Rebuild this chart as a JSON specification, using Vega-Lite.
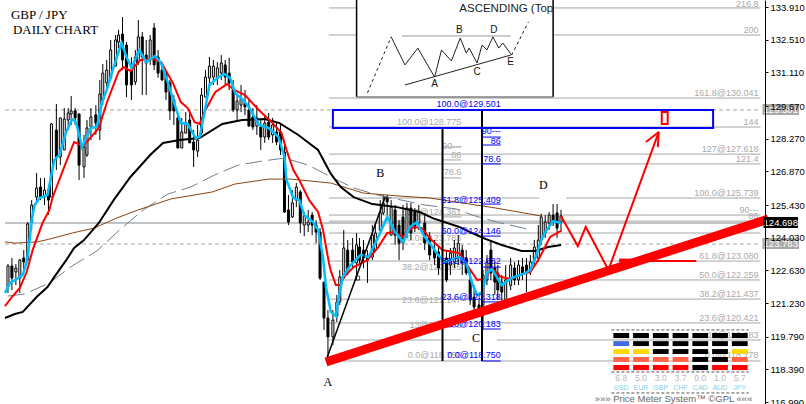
{"$schema":"https://vega.github.io/schema/vega-lite/v6.json","width":806,"height":404,"padding":0,"autosize":{"type":"none"},"background":"#ffffff","config":{"view":{"stroke":null}},
"datasets":{
"candles":[{"x":3,"o":121.92,"c":122.82,"p":122.90,"l":121.66},{"x":7,"o":122.82,"c":122.30,"p":123.16,"l":121.79},{"x":11,"o":122.56,"c":122.73,"p":122.90,"l":122.00},{"x":15,"o":122.30,"c":123.07,"p":123.12,"l":121.66},{"x":19,"o":123.16,"c":122.99,"p":123.50,"l":122.56},{"x":23,"o":123.07,"c":124.62,"p":124.70,"l":123.07},{"x":27,"o":124.70,"c":125.43,"p":125.64,"l":124.36},{"x":32,"o":125.77,"c":126.16,"p":126.80,"l":125.51},{"x":36,"o":126.20,"c":125.77,"p":126.59,"l":125.64},{"x":40,"o":125.77,"c":126.07,"p":126.59,"l":125.43},{"x":44,"o":126.07,"c":125.64,"p":126.29,"l":125.0},{"x":47,"o":125.77,"c":128.90,"p":128.94,"l":125.77},{"x":52,"o":128.64,"c":127.49,"p":129.76,"l":126.93},{"x":56,"o":127.49,"c":129.16,"p":129.16,"l":127.14},{"x":60,"o":127.79,"c":129.11,"p":129.58,"l":127.79},{"x":64,"o":129.07,"c":129.37,"p":129.58,"l":128.64},{"x":67,"o":129.33,"c":129.46,"p":130.10,"l":128.86},{"x":71,"o":129.46,"c":129.16,"p":129.58,"l":128.86},{"x":75,"o":129.33,"c":127.14,"p":129.33,"l":126.50},{"x":80,"o":127.06,"c":127.91,"p":128.43,"l":126.59},{"x":83,"o":127.57,"c":128.73,"p":129.07,"l":127.49},{"x":87,"o":128.77,"c":129.20,"p":129.58,"l":128.21},{"x":92,"o":129.29,"c":128.94,"p":129.71,"l":128.43},{"x":96,"o":128.64,"c":130.18,"p":130.78,"l":128.21},{"x":99,"o":129.93,"c":131.08,"p":131.47,"l":129.71},{"x":103,"o":130.66,"c":131.21,"p":131.64,"l":130.44},{"x":107,"o":130.87,"c":132.07,"p":132.50,"l":130.78},{"x":112,"o":131.38,"c":132.50,"p":132.71,"l":131.38},{"x":115,"o":132.41,"c":132.71,"p":132.93,"l":132.15},{"x":119,"o":132.75,"c":131.64,"p":133.48,"l":131.21},{"x":123,"o":132.28,"c":130.57,"p":132.41,"l":130.05},{"x":128,"o":131.21,"c":130.57,"p":131.77,"l":129.93},{"x":132,"o":130.70,"c":131.77,"p":132.07,"l":130.57},{"x":135,"o":131.55,"c":132.63,"p":133.35,"l":131.43},{"x":139,"o":132.63,"c":131.77,"p":132.84,"l":130.14},{"x":143,"o":131.85,"c":131.51,"p":132.50,"l":130.14},{"x":147,"o":131.64,"c":132.50,"p":132.71,"l":131.43},{"x":151,"o":133.01,"c":131.43,"p":133.22,"l":131.21},{"x":155,"o":131.77,"c":131.08,"p":132.07,"l":130.88},{"x":159,"o":131.21,"c":130.78,"p":131.55,"l":130.78},{"x":163,"o":131.08,"c":130.27,"p":131.08,"l":129.93},{"x":167,"o":130.66,"c":129.46,"p":130.78,"l":129.07},{"x":171,"o":129.93,"c":129.46,"p":130.14,"l":128.86},{"x":175,"o":129.16,"c":127.87,"p":129.29,"l":127.87},{"x":179,"o":127.87,"c":128.56,"p":129.16,"l":127.87},{"x":183,"o":128.51,"c":128.94,"p":129.41,"l":128.51},{"x":187,"o":129.07,"c":128.09,"p":129.50,"l":128.09},{"x":191,"o":128.13,"c":127.79,"p":128.64,"l":127.06},{"x":195,"o":127.74,"c":128.21,"p":128.86,"l":127.49},{"x":199,"o":128.51,"c":130.14,"p":130.44,"l":128.43},{"x":203,"o":130.05,"c":130.91,"p":131.21,"l":130.05},{"x":207,"o":130.87,"c":131.38,"p":131.77,"l":130.36},{"x":211,"o":130.91,"c":131.38,"p":131.64,"l":130.57},{"x":215,"o":130.87,"c":131.30,"p":131.55,"l":130.57},{"x":219,"o":131.08,"c":131.51,"p":131.85,"l":130.78},{"x":223,"o":131.43,"c":130.91,"p":131.64,"l":130.57},{"x":227,"o":131.08,"c":130.66,"p":131.73,"l":130.36},{"x":231,"o":130.36,"c":129.50,"p":130.78,"l":129.41},{"x":235,"o":129.50,"c":129.88,"p":130.14,"l":129.07},{"x":239,"o":129.71,"c":129.97,"p":130.57,"l":129.41},{"x":243,"o":129.80,"c":129.63,"p":130.36,"l":129.28},{"x":247,"o":129.50,"c":128.81,"p":129.93,"l":128.81},{"x":251,"o":129.20,"c":128.77,"p":129.58,"l":128.64},{"x":255,"o":128.81,"c":129.16,"p":129.71,"l":128.43},{"x":259,"o":128.77,"c":128.34,"p":129.07,"l":127.79},{"x":263,"o":128.34,"c":128.94,"p":129.29,"l":128.09},{"x":267,"o":128.98,"c":128.34,"p":129.37,"l":128.21},{"x":271,"o":128.43,"c":128.86,"p":129.16,"l":128.09},{"x":275,"o":128.56,"c":128.13,"p":128.98,"l":128.0},{"x":279,"o":128.56,"c":127.79,"p":128.86,"l":127.57},{"x":283,"o":127.70,"c":125.13,"p":128.0,"l":125.09},{"x":287,"o":125.22,"c":124.70,"p":125.86,"l":124.57},{"x":291,"o":124.92,"c":125.52,"p":126.07,"l":124.87},{"x":295,"o":125.64,"c":126.20,"p":126.37,"l":125.34},{"x":299,"o":125.99,"c":124.66,"p":126.07,"l":124.23},{"x":303,"o":124.57,"c":125.0,"p":125.13,"l":124.10},{"x":307,"o":124.57,"c":124.70,"p":125.22,"l":124.27},{"x":311,"o":125.0,"c":124.57,"p":125.13,"l":124.14},{"x":315,"o":124.57,"c":124.27,"p":124.79,"l":123.80},{"x":319,"o":124.27,"c":122.30,"p":124.44,"l":122.22},{"x":323,"o":122.13,"c":120.59,"p":122.13,"l":120.08},{"x":327,"o":120.59,"c":119.78,"p":120.93,"l":118.88},{"x":332,"o":119.78,"c":120.5,"p":120.93,"l":119.43},{"x":336,"o":120.68,"c":121.28,"p":121.58,"l":120.42},{"x":339,"o":121.28,"c":122.35,"p":122.65,"l":121.15},{"x":343,"o":122.30,"c":123.59,"p":124.36,"l":122.30},{"x":347,"o":123.50,"c":122.65,"p":123.93,"l":122.43},{"x":352,"o":123.50,"c":122.99,"p":124.02,"l":122.73},{"x":356,"o":122.95,"c":123.72,"p":124.23,"l":122.22},{"x":359,"o":123.63,"c":123.07,"p":124.02,"l":122.86},{"x":363,"o":123.50,"c":123.16,"p":123.93,"l":122.73},{"x":367,"o":123.16,"c":123.07,"p":123.50,"l":122.09},{"x":372,"o":123.20,"c":124.14,"p":124.57,"l":123.07},{"x":375,"o":123.50,"c":124.23,"p":124.70,"l":123.42},{"x":380,"o":124.36,"c":125.09,"p":125.64,"l":124.27},{"x":383,"o":125.09,"c":125.52,"p":125.86,"l":125.0},{"x":387,"o":125.77,"c":125.56,"p":125.86,"l":125.0},{"x":391,"o":124.14,"c":125.34,"p":125.64,"l":124.14},{"x":395,"o":125.22,"c":124.14,"p":125.43,"l":123.72},{"x":399,"o":124.57,"c":123.80,"p":124.79,"l":123.07},{"x":403,"o":124.92,"c":123.80,"p":125.43,"l":123.50},{"x":407,"o":124.23,"c":125.30,"p":125.52,"l":124.02},{"x":411,"o":125.30,"c":124.23,"p":125.52,"l":123.93},{"x":415,"o":125.13,"c":124.44,"p":125.30,"l":124.27},{"x":419,"o":124.66,"c":125.13,"p":125.43,"l":124.36},{"x":425,"o":124.66,"c":123.80,"p":124.99,"l":123.50},{"x":430,"o":124.06,"c":123.29,"p":124.27,"l":123.07},{"x":435,"o":123.50,"c":123.16,"p":123.93,"l":122.86},{"x":439,"o":123.42,"c":122.73,"p":123.72,"l":122.43},{"x":447,"o":123.16,"c":122.22,"p":123.50,"l":122.13},{"x":451,"o":122.86,"c":123.37,"p":123.59,"l":122.43},{"x":455,"o":122.99,"c":123.59,"p":123.93,"l":122.73},{"x":459,"o":123.20,"c":123.80,"p":124.14,"l":122.86},{"x":463,"o":123.50,"c":122.95,"p":123.72,"l":122.43},{"x":467,"o":123.16,"c":122.52,"p":123.50,"l":122.43},{"x":471,"o":122.22,"c":121.36,"p":122.65,"l":121.15},{"x":475,"o":121.49,"c":121.06,"p":122.0,"l":120.85},{"x":480,"o":121.15,"c":120.93,"p":121.45,"l":120.72},{"x":484,"o":121.15,"c":122.43,"p":122.65,"l":120.08},{"x":488,"o":122.22,"c":122.99,"p":123.29,"l":122.0},{"x":492,"o":123.50,"c":122.52,"p":123.93,"l":122.22},{"x":496,"o":122.73,"c":122.13,"p":122.99,"l":121.58},{"x":499,"o":122.52,"c":121.79,"p":122.86,"l":121.36},{"x":503,"o":122.13,"c":121.70,"p":122.43,"l":121.28},{"x":507,"o":121.36,"c":122.22,"p":122.86,"l":121.28},{"x":512,"o":121.99,"c":122.86,"p":123.16,"l":121.79},{"x":516,"o":122.73,"c":122.22,"p":122.99,"l":122.0},{"x":520,"o":122.22,"c":122.86,"p":123.07,"l":122.0},{"x":524,"o":122.78,"c":122.52,"p":123.16,"l":122.22},{"x":528,"o":122.86,"c":122.56,"p":123.16,"l":121.70},{"x":532,"o":122.65,"c":122.99,"p":123.29,"l":122.43},{"x":536,"o":123.07,"c":123.63,"p":123.93,"l":122.86},{"x":540,"o":123.16,"c":123.93,"p":124.57,"l":122.99},{"x":543,"o":123.93,"c":124.92,"p":125.05,"l":123.72},{"x":547,"o":124.23,"c":124.70,"p":125.0,"l":124.02},{"x":551,"o":124.66,"c":125.0,"p":125.13,"l":124.36},{"x":555,"o":125.0,"c":124.70,"p":125.47,"l":124.53},{"x":559,"o":125.09,"c":124.44,"p":125.47,"l":124.02},{"x":563,"o":124.70,"c":124.96,"p":125.22,"l":124.27}],
"cyan":[{"x":0,"p":121.66},{"x":5,"p":122.09},{"x":12,"p":122.26},{"x":18,"p":122.43},{"x":22,"p":122.99},{"x":25,"p":123.93},{"x":27,"p":124.79},{"x":30,"p":125.43},{"x":35,"p":125.73},{"x":43,"p":125.86},{"x":50,"p":127.36},{"x":55,"p":127.57},{"x":62,"p":128.56},{"x":68,"p":129.11},{"x":72,"p":128.98},{"x":78,"p":127.91},{"x":87,"p":128.73},{"x":93,"p":128.77},{"x":98,"p":129.80},{"x":103,"p":130.36},{"x":110,"p":131.34},{"x":118,"p":132.37},{"x":123,"p":131.77},{"x":128,"p":131.30},{"x":136,"p":132.07},{"x":143,"p":131.55},{"x":152,"p":131.81},{"x":158,"p":131.51},{"x":165,"p":130.66},{"x":173,"p":129.58},{"x":178,"p":128.94},{"x":185,"p":128.90},{"x":193,"p":128.30},{"x":197,"p":128.34},{"x":202,"p":129.37},{"x":207,"p":130.57},{"x":215,"p":130.87},{"x":222,"p":131.04},{"x":228,"p":130.87},{"x":233,"p":130.23},{"x":240,"p":129.97},{"x":247,"p":129.63},{"x":257,"p":128.86},{"x":267,"p":128.73},{"x":277,"p":128.34},{"x":283,"p":127.49},{"x":285,"p":126.50},{"x":292,"p":125.73},{"x":298,"p":125.64},{"x":303,"p":125.0},{"x":312,"p":124.70},{"x":317,"p":124.36},{"x":322,"p":123.20},{"x":325,"p":121.92},{"x":330,"p":120.85},{"x":335,"p":120.68},{"x":338,"p":121.49},{"x":342,"p":122.35},{"x":350,"p":122.86},{"x":360,"p":123.29},{"x":368,"p":123.20},{"x":378,"p":124.06},{"x":387,"p":124.92},{"x":395,"p":124.27},{"x":403,"p":123.85},{"x":410,"p":124.49},{"x":417,"p":124.70},{"x":425,"p":124.06},{"x":433,"p":123.63},{"x":437,"p":123.37},{"x":445,"p":122.99},{"x":460,"p":123.20},{"x":467,"p":122.95},{"x":473,"p":122.09},{"x":478,"p":121.58},{"x":483,"p":121.70},{"x":488,"p":122.52},{"x":493,"p":122.69},{"x":503,"p":122.0},{"x":513,"p":122.30},{"x":527,"p":122.52},{"x":532,"p":122.65},{"x":538,"p":123.29},{"x":543,"p":123.93},{"x":547,"p":124.27},{"x":555,"p":124.74},{"x":563,"p":124.66}],
"redma":[{"x":0,"p":121.10},{"x":7,"p":121.49},{"x":15,"p":121.88},{"x":22,"p":122.56},{"x":28,"p":123.50},{"x":38,"p":124.66},{"x":45,"p":125.22},{"x":48,"p":125.73},{"x":60,"p":127.06},{"x":70,"p":128.13},{"x":79,"p":127.96},{"x":87,"p":128.34},{"x":95,"p":128.73},{"x":103,"p":129.80},{"x":115,"p":131.13},{"x":120,"p":131.34},{"x":127,"p":131.17},{"x":137,"p":131.64},{"x":150,"p":131.68},{"x":158,"p":131.55},{"x":170,"p":130.66},{"x":178,"p":129.84},{"x":185,"p":129.58},{"x":192,"p":128.98},{"x":197,"p":128.90},{"x":203,"p":129.50},{"x":213,"p":130.27},{"x":225,"p":130.61},{"x":232,"p":130.36},{"x":243,"p":130.14},{"x":257,"p":129.50},{"x":270,"p":128.98},{"x":280,"p":128.51},{"x":285,"p":127.79},{"x":292,"p":126.93},{"x":298,"p":126.50},{"x":308,"p":125.64},{"x":317,"p":125.13},{"x":322,"p":124.36},{"x":328,"p":122.95},{"x":330,"p":122.60},{"x":335,"p":122.0},{"x":340,"p":122.0},{"x":343,"p":122.35},{"x":353,"p":122.77},{"x":367,"p":123.07},{"x":378,"p":123.63},{"x":387,"p":124.23},{"x":395,"p":124.27},{"x":403,"p":124.06},{"x":413,"p":124.49},{"x":422,"p":124.44},{"x":432,"p":123.93},{"x":443,"p":123.50},{"x":460,"p":123.37},{"x":470,"p":122.73},{"x":478,"p":122.22},{"x":485,"p":122.26},{"x":493,"p":122.73},{"x":502,"p":122.35},{"x":512,"p":122.26},{"x":527,"p":122.52},{"x":532,"p":122.56},{"x":540,"p":123.07},{"x":552,"p":124.06},{"x":563,"p":124.32}],
"blackma":[{"x":0,"p":120.59},{"x":10,"p":120.76},{"x":18,"p":120.85},{"x":32,"p":121.49},{"x":43,"p":121.92},{"x":50,"p":122.35},{"x":62,"p":123.07},{"x":70,"p":123.59},{"x":80,"p":123.93},{"x":95,"p":124.66},{"x":110,"p":125.64},{"x":127,"p":126.63},{"x":147,"p":127.57},{"x":160,"p":128.09},{"x":177,"p":128.21},{"x":197,"p":128.30},{"x":220,"p":128.90},{"x":240,"p":129.07},{"x":263,"p":129.11},{"x":278,"p":128.94},{"x":297,"p":128.43},{"x":317,"p":127.79},{"x":330,"p":126.76},{"x":340,"p":126.20},{"x":353,"p":125.77},{"x":372,"p":125.47},{"x":397,"p":125.34},{"x":420,"p":125.13},{"x":433,"p":124.87},{"x":460,"p":124.49},{"x":473,"p":124.23},{"x":487,"p":123.97},{"x":503,"p":123.72},{"x":523,"p":123.46},{"x":537,"p":123.46},{"x":550,"p":123.63},{"x":563,"p":123.72}],
"brown":[{"x":0,"p":123.85},{"x":10,"p":123.80},{"x":33,"p":123.85},{"x":45,"p":123.97},{"x":68,"p":124.23},{"x":90,"p":124.44},{"x":113,"p":124.87},{"x":135,"p":125.22},{"x":168,"p":125.69},{"x":210,"p":125.99},{"x":233,"p":126.33},{"x":267,"p":126.54},{"x":290,"p":126.54},{"x":330,"p":126.37},{"x":363,"p":125.94},{"x":397,"p":125.82},{"x":430,"p":125.73},{"x":463,"p":125.52},{"x":497,"p":125.30},{"x":543,"p":124.96}],
"slate":[{"x":3,"p":121.53},{"x":20,"p":121.62},{"x":45,"p":122.09},{"x":68,"p":122.82},{"x":93,"p":123.46},{"x":117,"p":124.40},{"x":140,"p":125.22},{"x":165,"p":125.90},{"x":188,"p":126.20},{"x":212,"p":126.71},{"x":236,"p":127.14},{"x":260,"p":127.31},{"x":283,"p":127.44},{"x":307,"p":127.14},{"x":330,"p":126.63},{"x":353,"p":126.16},{"x":377,"p":125.86},{"x":425,"p":125.43},{"x":457,"p":125.26},{"x":473,"p":125.0},{"x":498,"p":124.70},{"x":525,"p":124.44},{"x":533,"p":124.32}],
"levels":[{"x":328,"x2":765,"p":133.87},{"x":328,"x2":765,"p":132.71},{"x":328,"x2":765,"p":130.01},{"x":328,"x2":765,"p":128.77},{"x":328,"x2":765,"p":127.61},{"x":328,"x2":765,"p":127.19},{"x":328,"x2":765,"p":125.73},{"x":328,"x2":765,"p":125.0},{"x":328,"x2":765,"p":124.74},{"x":328,"x2":765,"p":124.23},{"x":328,"x2":765,"p":123.03},{"x":328,"x2":765,"p":122.22},{"x":328,"x2":765,"p":121.40},{"x":328,"x2":765,"p":120.38},{"x":328,"x2":765,"p":119.65},{"x":328,"x2":765,"p":118.75},{"x":443,"x2":462,"p":127.91},{"x":443,"x2":462,"p":127.36},{"x":443,"x2":462,"p":126.59},{"x":443,"x2":462,"p":124.92}],
"current":[{"x":0,"x2":765,"p":124.66}],
"dashed":[{"x":0,"x2":765,"p":129.50},{"x":0,"x2":765,"p":123.76}],
"masks":[{"x":462,"x2":498,"p":119.9,"p2":119.4},{"x":541,"x2":568,"p":125.95,"p2":125.55}],
"blueunder":[{"x":483,"x2":502,"p":128.34},{"x":483,"x2":502,"p":128.0},{"x":483,"x2":502,"p":127.19},{"x":483,"x2":502,"p":125.47},{"x":483,"x2":502,"p":124.1},{"x":483,"x2":502,"p":122.77},{"x":483,"x2":502,"p":121.28},{"x":483,"x2":502,"p":120.12},{"x":483,"x2":502,"p":118.75}],
"graytext":[{"x":462,"p":128.98,"t":"100.0@128.775"},{"x":462,"p":127.96,"t":"90---"},{"x":462,"p":127.57,"t":"86"},{"x":462,"p":126.84,"t":"78.6"},{"x":462,"p":125.13,"t":"61.8@124.361"},{"x":462,"p":124.02,"t":"50.0@123.783"},{"x":462,"p":122.77,"t":"38.2@122.105"},{"x":462,"p":121.36,"t":"23.6@121.147"},{"x":462,"p":120.29,"t":"13@120.183"},{"x":462,"p":119.01,"t":"0.0@118.750"},{"x":763,"p":134.04,"t":"216.8"},{"x":763,"p":132.93,"t":"200"},{"x":763,"p":130.23,"t":"161.8@130.041"},{"x":763,"p":128.98,"t":"144"},{"x":763,"p":127.83,"t":"127@127.618"},{"x":763,"p":127.4,"t":"121.4"},{"x":763,"p":125.94,"t":"100.0@125.739"},{"x":763,"p":125.22,"t":"90---"},{"x":763,"p":124.96,"t":"86"},{"x":763,"p":123.25,"t":"61.8@123.080"},{"x":763,"p":122.43,"t":"50.0@122.259"},{"x":763,"p":121.62,"t":"38.2@121.437"},{"x":763,"p":120.59,"t":"23.6@120.421"},{"x":763,"p":119.86,"t":"13@119.183"},{"x":763,"p":119.01,"t":"0.0@118.778"}],
"bluetext":[{"x":502,"p":129.76,"t":"100.0@129.501"},{"x":502,"p":128.6,"t":"90---"},{"x":502,"p":128.17,"t":"86"},{"x":502,"p":127.4,"t":"78.6"},{"x":502,"p":125.64,"t":"61.8@125.409"},{"x":502,"p":124.32,"t":"50.0@124.146"},{"x":502,"p":123.03,"t":"38.2@122.882"},{"x":502,"p":121.49,"t":"23.6@120.318"},{"x":502,"p":120.33,"t":"13@120.183"},{"x":502,"p":119.01,"t":"0.0@118.750"}],
"verticals":[{"x":443,"p":128.73,"p2":118.75},{"x":483,"p":129.50,"p2":118.75}],
"box":[{"x":332,"x2":717,"p":129.50,"p2":128.73}],
"smallbox":[{"x":665,"x2":671,"p":129.41,"p2":128.90}],
"thick":[{"x":325,"p":118.71},{"x":773,"p":124.83}],
"zig":[{"s":"a","x":563,"p":124.96},{"s":"a","x":580,"p":123.67},{"s":"a","x":588,"p":124.49},{"s":"a","x":611,"p":122.65},{"s":"a","x":662,"p":128.56},{"s":"b","x":649,"p":128.13},{"s":"b","x":662,"p":128.56},{"s":"c","x":661,"p":127.91},{"s":"c","x":662,"p":128.56},{"s":"d","x":622,"p":123.03},{"s":"d","x":700,"p":123.03}],
"stub":[{"x":622,"p":123.05},{"x":636,"p":123.05}],
"diag":[{"x":326,"p":118.88},{"x":385,"p":125.77}],
"marker":[{"x":357,"p":122.30}],
"letters":[{"x":327,"p":117.85,"t":"A"},{"x":380,"p":126.80,"t":"B"},{"x":477,"p":119.73,"t":"C"},{"x":545,"p":126.29,"t":"D"}],
"titles":[{"x":6,"p":133.55,"t":"GBP / JPY"},{"x":8,"p":132.91,"t":"DAILY CHART"}],
"inset":[{"x":356,"x2":555,"p":134.21,"p2":130.06}],
"insetedges":[{"s":"l","x":356,"p":134.21},{"s":"l","x":356,"p":130.06},{"s":"r","x":555,"p":134.21},{"s":"r","x":555,"p":130.06}],
"insetbottom":[{"x":356,"x2":555,"p":130.06}],
"insetsolid":[{"s":"w","x":391,"p":132.63},{"s":"w","x":405,"p":131.43},{"s":"w","x":418,"p":132.15},{"s":"w","x":435,"p":130.91},{"s":"w","x":442,"p":132.07},{"s":"w","x":452,"p":131.60},{"s":"w","x":461,"p":132.58},{"s":"w","x":467,"p":131.94},{"s":"w","x":470,"p":132.15},{"s":"w","x":478,"p":131.51},{"s":"w","x":483,"p":132.28},{"s":"w","x":488,"p":132.07},{"s":"w","x":494,"p":132.63},{"s":"w","x":500,"p":132.15},{"s":"w","x":504,"p":132.37},{"s":"w","x":513,"p":131.85},{"s":"t","x":405,"p":130.57},{"s":"t","x":512,"p":131.85}],
"insethoriz":[{"x":402,"p":132.67},{"x":512,"p":132.67}],
"insetdash":[{"s":"a","x":367,"p":130.23},{"s":"a","x":391,"p":132.63},{"s":"b","x":513,"p":131.85},{"s":"b","x":530,"p":133.27}],
"insettext":[{"x":435,"p":130.61,"t":"A"},{"x":460,"p":132.93,"t":"B"},{"x":478,"p":131.13,"t":"C"},{"x":495,"p":132.93,"t":"D"},{"x":512,"p":131.55,"t":"E"}],
"insettitle":[{"x":460,"p":133.82,"t":"ASCENDING (Top"}],
"meter":[{"x":616,"x2":632,"p":119.95,"p2":119.73,"k":"k"},{"x":616,"x2":632,"p":119.60,"p2":119.39,"k":"b"},{"x":616,"x2":632,"p":119.26,"p2":119.05,"k":"g"},{"x":616,"x2":632,"p":118.92,"p2":118.71,"k":"t"},{"x":616,"x2":632,"p":118.58,"p2":118.36,"k":"r"},{"x":636,"x2":652,"p":119.95,"p2":119.73,"k":"k"},{"x":636,"x2":652,"p":119.60,"p2":119.39,"k":"k"},{"x":636,"x2":652,"p":119.26,"p2":119.05,"k":"g"},{"x":636,"x2":652,"p":118.92,"p2":118.71,"k":"t"},{"x":636,"x2":652,"p":118.58,"p2":118.36,"k":"r"},{"x":656,"x2":672,"p":119.95,"p2":119.73,"k":"k"},{"x":656,"x2":672,"p":119.60,"p2":119.39,"k":"k"},{"x":656,"x2":672,"p":119.26,"p2":119.05,"k":"k"},{"x":656,"x2":672,"p":118.92,"p2":118.71,"k":"t"},{"x":656,"x2":672,"p":118.58,"p2":118.36,"k":"r"},{"x":676,"x2":692,"p":119.95,"p2":119.73,"k":"k"},{"x":676,"x2":692,"p":119.60,"p2":119.39,"k":"k"},{"x":676,"x2":692,"p":119.26,"p2":119.05,"k":"k"},{"x":676,"x2":692,"p":118.92,"p2":118.71,"k":"t"},{"x":676,"x2":692,"p":118.58,"p2":118.36,"k":"r"},{"x":696,"x2":712,"p":119.95,"p2":119.73,"k":"k"},{"x":696,"x2":712,"p":119.60,"p2":119.39,"k":"k"},{"x":696,"x2":712,"p":119.26,"p2":119.05,"k":"k"},{"x":696,"x2":712,"p":118.92,"p2":118.71,"k":"k"},{"x":696,"x2":712,"p":118.58,"p2":118.36,"k":"k"},{"x":716,"x2":732,"p":119.95,"p2":119.73,"k":"k"},{"x":716,"x2":732,"p":119.60,"p2":119.39,"k":"k"},{"x":716,"x2":732,"p":119.26,"p2":119.05,"k":"k"},{"x":716,"x2":732,"p":118.92,"p2":118.71,"k":"k"},{"x":716,"x2":732,"p":118.58,"p2":118.36,"k":"r"},{"x":736,"x2":752,"p":119.95,"p2":119.73,"k":"k"},{"x":736,"x2":752,"p":119.60,"p2":119.39,"k":"k"},{"x":736,"x2":752,"p":119.26,"p2":119.05,"k":"g"},{"x":736,"x2":752,"p":118.92,"p2":118.71,"k":"t"},{"x":736,"x2":752,"p":118.58,"p2":118.36,"k":"r"}],
"meterdash":[{"x":614,"x2":753,"p":120.08},{"x":614,"x2":753,"p":118.28},{"x":614,"x2":753,"p":117.38}],
"metervals":[{"x":624,"p":118.04,"t":"6.8"},{"x":644,"p":118.04,"t":"5.0"},{"x":664,"p":118.04,"t":"3.0"},{"x":684,"p":118.04,"t":"3.7"},{"x":704,"p":118.04,"t":"0.0"},{"x":724,"p":118.04,"t":"1.0"},{"x":744,"p":118.04,"t":"5.7"}],
"metercur":[{"x":624,"p":117.61,"t":"USD"},{"x":644,"p":117.61,"t":"EUR"},{"x":664,"p":117.61,"t":"GBP"},{"x":684,"p":117.61,"t":"CHF"},{"x":704,"p":117.61,"t":"CAD"},{"x":724,"p":117.61,"t":"AUD"},{"x":744,"p":117.61,"t":"JPY"}],
"meterfoot":[{"x":677,"p":117.14,"t":"»»» Price Meter System™ ©GPL «««"}],
"tags":[{"x":768,"x2":803,"p":124.92,"p2":124.45,"k":"now"},{"x":767,"x2":804,"p":124.02,"p2":123.55,"k":"old"},{"x":767,"x2":804,"p":129.76,"p2":129.28,"k":"old"}],
"tagtext":[{"x":785.5,"p":124.68,"t":"124.698"},{"x":785.5,"p":123.78,"t":"123.783"},{"x":785.5,"p":129.52,"t":"129.501"}]
},
"data":{"name":"candles"},
"encoding":{
"x":{"field":"x","type":"quantitative","scale":{"domain":[0,806],"nice":false,"zero":false},"axis":null},
"y":{"field":"p","type":"quantitative","scale":{"domain":[116.908,134.21],"nice":false,"zero":false},"axis":{"orient":"right","offset":-41,"values":[133.91,132.51,131.11,129.67,128.27,126.87,125.43,124.03,122.63,121.23,119.79,118.39,116.99],"format":".3f","title":null,"grid":false,"tickSize":3,"labelPadding":2,"labelFont":"Liberation Sans","labelFontSize":9.5,"labelColor":"#000000","domainColor":"#000000","tickColor":"#000000","zindex":1,"labelOverlap":false,"labelFlush":false}}
},
"layer":[
{"data":{"name":"levels"},"mark":{"type":"rule","color":"#a6a6a6","strokeWidth":1},"encoding":{"x2":{"field":"x2"}}},
{"data":{"name":"current"},"mark":{"type":"rule","color":"#808890","strokeWidth":1},"encoding":{"x2":{"field":"x2"}}},
{"data":{"name":"dashed"},"mark":{"type":"rule","color":"#a6a6a6","strokeWidth":1,"strokeDash":[4,3]},"encoding":{"x2":{"field":"x2"}}},
{"data":{"name":"masks"},"mark":{"type":"rect","fill":"#ffffff"},"encoding":{"x2":{"field":"x2"},"y2":{"field":"p2"}}},
{"data":{"name":"graytext"},"mark":{"type":"text","align":"right","baseline":"middle","font":"Liberation Sans","fontSize":9,"color":"#a9a9a9"},"encoding":{"text":{"field":"t"}}},
{"mark":{"type":"rule","color":"#000000","strokeWidth":1},"encoding":{"y2":{"field":"l"}}},
{"mark":{"type":"bar","size":2,"stroke":"#000000","strokeWidth":1,"orient":"vertical"},"encoding":{"y":{"field":"o","type":"quantitative","scale":{"domain":[116.908,134.21],"nice":false,"zero":false},"axis":{"orient":"right","offset":-41,"values":[133.91,132.51,131.11,129.67,128.27,126.87,125.43,124.03,122.63,121.23,119.79,118.39,116.99],"format":".3f","title":null,"grid":false,"tickSize":3,"labelPadding":2,"labelFont":"Liberation Sans","labelFontSize":9.5,"labelColor":"#000000","domainColor":"#000000","tickColor":"#000000","zindex":1,"labelOverlap":false,"labelFlush":false}},"y2":{"field":"c"},"fill":{"condition":{"test":"datum.c>=datum.o","value":"#ffffff"},"value":"#000000"}}},
{"data":{"name":"slate"},"mark":{"type":"line","color":"#708090","strokeWidth":1,"strokeDash":[17,6]}},
{"data":{"name":"brown"},"mark":{"type":"line","color":"#8b4513","strokeWidth":1}},
{"data":{"name":"blackma"},"mark":{"type":"line","color":"#000000","strokeWidth":2}},
{"data":{"name":"redma"},"mark":{"type":"line","color":"#ff0000","strokeWidth":2}},
{"data":{"name":"cyan"},"mark":{"type":"line","color":"#00bfff","strokeWidth":2.5}},
{"data":{"name":"verticals"},"mark":{"type":"rule","color":"#000000","strokeWidth":2},"encoding":{"y2":{"field":"p2"}}},
{"data":{"name":"blueunder"},"mark":{"type":"rule","color":"#0000ff","strokeWidth":1},"encoding":{"x2":{"field":"x2"}}},
{"data":{"name":"bluetext"},"mark":{"type":"text","align":"right","baseline":"middle","font":"Liberation Sans","fontSize":9,"color":"#0000ff"},"encoding":{"text":{"field":"t"}}},
{"data":{"name":"diag"},"mark":{"type":"line","color":"#000000","strokeWidth":1.5}},
{"data":{"name":"marker"},"mark":{"type":"point","shape":"square","size":16,"color":"#000000","filled":false,"strokeWidth":1}},
{"data":{"name":"box"},"mark":{"type":"rect","fill":null,"stroke":"#0000ff","strokeWidth":2},"encoding":{"x2":{"field":"x2"},"y2":{"field":"p2"}}},
{"data":{"name":"smallbox"},"mark":{"type":"rect","fill":null,"stroke":"#ff0000","strokeWidth":2},"encoding":{"x2":{"field":"x2"},"y2":{"field":"p2"}}},
{"data":{"name":"thick"},"mark":{"type":"line","color":"#ff0000","strokeWidth":9}},
{"data":{"name":"zig"},"mark":{"type":"line","color":"#ff0000","strokeWidth":2},"encoding":{"detail":{"field":"s"},"order":{"value":0}}},
{"data":{"name":"stub"},"mark":{"type":"line","color":"#ff0000","strokeWidth":4}},
{"data":{"name":"letters"},"mark":{"type":"text","align":"center","baseline":"middle","font":"Liberation Serif","fontSize":12,"color":"#000000"},"encoding":{"text":{"field":"t"}}},
{"data":{"name":"titles"},"mark":{"type":"text","align":"left","baseline":"middle","font":"Liberation Serif","fontSize":13,"color":"#000000"},"encoding":{"text":{"field":"t"}}},
{"data":{"name":"inset"},"mark":{"type":"rect","fill":"#ffffff"},"encoding":{"x2":{"field":"x2"},"y2":{"field":"p2"}}},
{"data":{"name":"insetedges"},"mark":{"type":"line","color":"#000000","strokeWidth":1.5},"encoding":{"detail":{"field":"s"}}},
{"data":{"name":"insetbottom"},"mark":{"type":"rule","color":"#808080","strokeWidth":1.5},"encoding":{"x2":{"field":"x2"}}},
{"data":{"name":"insethoriz"},"mark":{"type":"line","color":"#999999","strokeWidth":1}},
{"data":{"name":"insetsolid"},"mark":{"type":"line","color":"#222222","strokeWidth":1},"encoding":{"detail":{"field":"s"}}},
{"data":{"name":"insetdash"},"mark":{"type":"line","color":"#222222","strokeWidth":1,"strokeDash":[3,3]},"encoding":{"detail":{"field":"s"}}},
{"data":{"name":"insettext"},"mark":{"type":"text","align":"center","baseline":"middle","font":"Liberation Sans","fontSize":10,"color":"#111111"},"encoding":{"text":{"field":"t"}}},
{"data":{"name":"insettitle"},"mark":{"type":"text","align":"left","baseline":"middle","font":"Liberation Sans","fontSize":11.5,"color":"#222222"},"encoding":{"text":{"field":"t"}}},
{"data":{"name":"meter"},"mark":{"type":"rect"},"encoding":{"x2":{"field":"x2"},"y2":{"field":"p2"},"color":{"field":"k","type":"nominal","scale":{"domain":["k","b","g","t","r"],"range":["#000000","#4169e1","#ffd700","#ff6347","#ff0000"]},"legend":null}}},
{"data":{"name":"meterdash"},"mark":{"type":"rule","color":"#555555","strokeWidth":1,"strokeDash":[3,2]},"encoding":{"x2":{"field":"x2"}}},
{"data":{"name":"metervals"},"mark":{"type":"text","align":"center","baseline":"middle","font":"Liberation Sans","fontSize":8.5,"color":"#b8b8b8"},"encoding":{"text":{"field":"t"}}},
{"data":{"name":"metercur"},"mark":{"type":"text","align":"center","baseline":"middle","font":"Liberation Sans","fontSize":7,"color":"#87ceeb"},"encoding":{"text":{"field":"t"}}},
{"data":{"name":"meterfoot"},"mark":{"type":"text","align":"center","baseline":"middle","font":"Liberation Sans","fontSize":9.5,"color":"#666666"},"encoding":{"text":{"field":"t"}}},
{"data":{"name":"tags"},"mark":{"type":"rect"},"encoding":{"x2":{"field":"x2"},"y2":{"field":"p2"},"fill":{"field":"k","type":"nominal","scale":{"domain":["now","old"],"range":["#000000","#a9a9a9"]},"legend":null}}},
{"data":{"name":"tagtext"},"mark":{"type":"text","align":"center","baseline":"middle","font":"Liberation Sans","fontSize":9.5,"color":"#ffffff"},"encoding":{"text":{"field":"t"}}}
]}
